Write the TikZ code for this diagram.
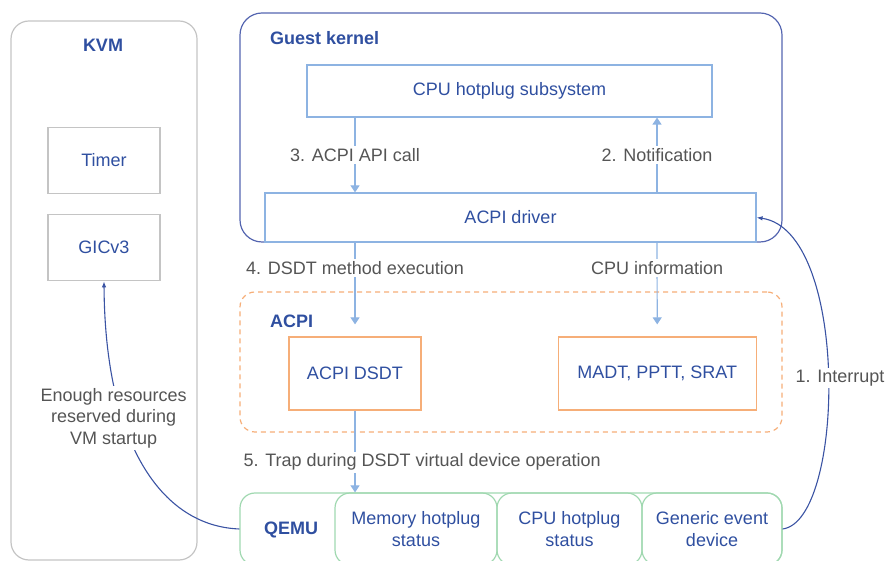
\documentclass[tikz,border=0pt]{standalone}
\usepackage{fontspec}
\setmainfont{Liberation Sans}
\usetikzlibrary{positioning,arrows.meta}
\definecolor{txtblue}{RGB}{47,79,160}
\definecolor{lblgray}{RGB}{85,85,85}
\definecolor{lineblue}{RGB}{141,179,226}
\definecolor{kernelblue}{RGB}{84,101,176}
\definecolor{kvmgray}{RGB}{196,196,196}
\definecolor{boxorange}{RGB}{246,174,120}
\definecolor{boxgreen}{RGB}{160,216,176}
\definecolor{curveblue}{RGB}{58,83,163}

\begin{document}
\begin{tikzpicture}[x=1pt,y=1pt,node distance=20pt,
  every node/.style={font=\fontsize{18}{21.5}\selectfont},
  frame node/.style={draw,rounded corners=15pt,line width=1.2pt,inner sep=0pt},
  title node/.style={text=txtblue,inner sep=0pt,font=\fontsize{18}{21.5}\selectfont\bfseries},
  main node/.style={draw=lineblue,line width=1.2pt,text=txtblue,inner sep=0pt},
  gray node/.style={main node,draw=kvmgray,minimum width=112pt,minimum height=66pt},
  orange node/.style={main node,draw=boxorange,minimum height=73pt},
  qemu node/.style={main node,draw=boxgreen,rounded corners=15pt,minimum height=72pt,align=center},
  flow/.style={draw=lineblue,line width=1.2pt,-{Triangle[length=7pt,width=9pt]}},
  flow label/.style={fill=white,text=lblgray,inner sep=2pt,font=\fontsize{18}{21.5}\selectfont},
  curve/.style={draw=curveblue,line width=1.1pt,-{Latex[length=6pt,width=4.5pt]}},
  note/.style={fill=white,text=lblgray,align=center,inner sep=2pt}]
  \clip (0,0) rectangle (885,561);

  % KVM
  \node[frame node,draw=kvmgray,rounded corners=18pt,minimum width=186pt,minimum height=539pt] (kvm) at (104,270.5) {};
  \node[title node] (kvmtitle) at (103,516) {KVM};
  \node[gray node] (timer) at (104,400.5) {Timer};
  \node[gray node] (gic) [below=of timer] {GICv3};

  % guest kernel
  \node[frame node,draw=kernelblue,rounded corners=22pt,minimum width=542pt,minimum height=229pt] (guest) at (511,433.5) {};
  \node[title node,anchor=west] (guesttitle) at (270,523) {Guest kernel};
  \node[main node,minimum width=405pt,minimum height=52pt] (hotplug) at (509.5,470) {CPU hotplug subsystem};
  \node[main node,minimum width=491pt,minimum height=49pt] (driver) at (510.5,343.5) {ACPI driver};

  % ACPI tables
  \node[frame node,draw=boxorange,dash pattern=on 5pt off 4pt,minimum width=542pt,minimum height=140pt] (acpi) at (511,199) {};
  \node[title node,anchor=west] (acpititle) at (270,240) {ACPI};
  \node[orange node,minimum width=132pt] (dsdt) at (355,187.5) {ACPI DSDT};
  \node[orange node,minimum width=198pt] (madt) [right=136pt of dsdt] {MADT, PPTT, SRAT};

  % QEMU
  \node[frame node,draw=boxgreen,minimum width=542pt,minimum height=72pt] (qemu) at (511,32) {};
  \node[title node] (qemutitle) at (291,31) {QEMU};
  \node[qemu node,minimum width=162pt] (mem) at (416,32) {Memory hotplug\\status};
  \node[qemu node,minimum width=145pt] (cpuhp) [right=-1.2pt of mem] {CPU hotplug\\status};
  \node[qemu node,minimum width=140pt] (ged) [right=-1.2pt of cpuhp] {Generic event\\device};

  \coordinate (l) at (355,0);
  \coordinate (r) at (657,0);
  \path[every edge/.style={flow},every node/.style={flow label}]
    (hotplug.south -| l) edge node {3. ACPI API call} (driver.north -| l)
    (driver.north -| r) edge node {2. Notification} (hotplug.south -| r)
    (driver.south -| l) edge node[pos=.31] {4. DSDT method execution} ([yshift=12pt]dsdt.north)
    (driver.south -| r) edge node[pos=.31] {CPU information} ([yshift=12pt]madt.north)
    (dsdt.south) edge node[pos=.63,anchor=west,xshift=-114pt] {5. Trap during DSDT virtual device operation} (qemu.north -| l);

  \draw[curve] (ged.east) .. controls (845,40) and (850,330) .. (driver.east)
    node[note,pos=.5,xshift=12pt,yshift=-3pt] {1. Interrupt};
  \draw[curve] (qemu.west) .. controls (160,35) and (105,120) .. (gic.south)
    node[note,pos=.65,xshift=-10pt,yshift=3pt] {Enough resources\\reserved during\\VM startup};
\end{tikzpicture}
\end{document}
